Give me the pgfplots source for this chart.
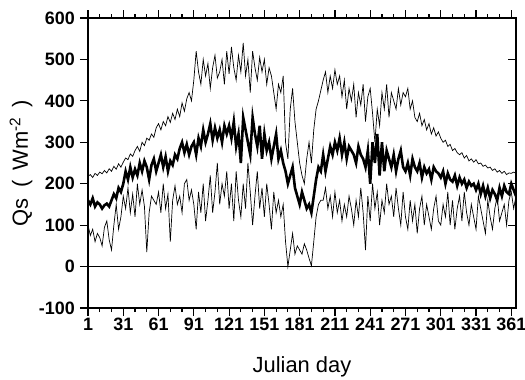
\documentclass[border=0pt]{standalone}
\usepackage{pgfplots}
\pgfplotsset{compat=1.18}
\usepackage{pgfplotstable}
\usepackage{fontspec}
\setmainfont{Liberation Sans}
\pgfplotstableread{
day up mid low
1 218 160 100
3 222 150 75
5 215 165 90
7 225 145 60
9 220 155 80
11 228 150 70
13 224 140 50
15 232 148 95
17 226 152 110
19 236 145 65
21 230 160 40
23 242 175 100
25 235 165 150
27 248 190 90
29 240 180 120
31 252 200 170
33 262 230 140
35 258 210 190
37 272 240 130
39 266 215 175
41 280 235 120
43 290 220 200
45 278 250 150
47 300 230 185
49 292 255 145
51 310 240 35
53 305 210 130
55 320 245 170
57 312 260 160
59 335 230 150
61 345 250 180
63 330 270 130
65 350 240 200
67 340 265 140
69 362 230 175
71 348 255 60
73 370 245 160
75 355 270 195
77 380 260 150
79 362 285 170
81 395 300 130
83 375 275 200
85 405 295 210
87 420 270 160
89 400 290 185
91 450 300 150
93 520 270 90
95 470 310 180
97 440 290 130
99 500 330 200
101 460 300 110
103 490 320 160
105 430 345 220
107 480 305 130
109 510 335 180
111 455 310 250
113 470 330 150
115 500 300 200
117 440 340 170
119 520 320 230
121 465 340 140
123 530 310 200
125 480 350 110
127 450 290 230
129 510 320 160
131 470 250 120
133 540 360 200
135 460 330 140
137 500 300 250
139 420 270 180
141 520 360 100
143 480 320 170
145 450 290 230
147 505 340 140
149 470 260 190
151 500 320 120
153 440 280 200
155 480 300 150
157 460 260 90
159 420 290 180
161 380 320 130
163 440 260 160
165 420 280 120
167 460 250 150
169 300 230 60
171 260 200 0
173 380 220 40
175 430 240 80
177 350 190 30
179 300 170 50
181 250 150 40
183 220 180 30
185 200 160 55
187 260 140 40
189 300 150 20
191 250 130 2
193 330 170 60
195 380 210 120
197 400 240 150
199 425 230 160
201 450 270 160
203 470 230 190
205 420 260 140
207 460 290 170
209 430 270 120
211 475 300 180
213 440 280 130
215 460 310 160
217 410 270 110
219 450 300 150
221 380 260 120
223 430 290 170
225 400 280 140
227 440 270 100
229 360 250 160
231 420 290 120
233 390 270 190
235 440 260 130
237 350 240 40
239 410 280 170
241 430 200 110
243 370 300 200
245 300 250 140
247 380 320 180
249 340 220 100
251 420 300 160
253 380 230 130
255 440 280 200
257 360 260 150
259 420 240 170
261 400 270 120
263 380 230 190
265 430 260 140
267 390 280 100
269 420 240 180
271 410 230 120
273 430 250 90
275 380 220 160
277 400 260 110
279 360 240 150
281 350 230 80
283 370 250 140
285 340 215 170
287 355 240 100
289 330 225 150
291 345 235 120
293 320 210 90
295 335 240 140
297 315 230 170
299 325 225 110
301 310 215 100
303 300 230 150
305 305 200 120
307 290 225 180
309 295 210 100
311 280 205 160
313 285 220 90
315 275 195 140
317 270 215 170
319 275 200 110
321 262 210 180
323 268 190 130
325 255 205 100
327 260 195 150
329 252 200 120
331 258 185 90
333 248 200 170
335 250 175 140
337 242 195 110
339 245 170 80
341 238 190 160
343 240 165 120
345 232 185 90
347 236 175 140
349 228 160 170
351 232 190 110
353 225 170 130
355 230 195 150
357 222 180 100
359 226 175 160
361 225 200 180
363 228 185 140
365 225 170 170
}\datatable
\begin{document}
\begin{tikzpicture}
\begin{axis}[
  scale only axis,
  width=428bp, height=290bp,
  xmin=1, xmax=365, ymin=-100, ymax=600,
  xtick={1,31,...,361},
  minor x tick num=2,
  ytick={-100,0,...,600},
  ytick pos=left,
  tick align=outside,
  major tick length=8bp,
  minor tick length=4bp,
  every tick/.style={black, line width=1.2pt},
  axis line style={line width=1.6pt},
  ticklabel style={font=\fontsize{18}{20}\selectfont\bfseries},
  xticklabel style={inner sep=2bp},
  yticklabel style={inner sep=2bp, xshift=-3bp},
  /pgf/number format/assume math mode=true,
  xlabel={Julian day},
  ylabel={Qs\hspace{0.5em}(\hspace{0.45em}Wm\textsuperscript{-2}\hspace{0.45em})},
  label style={font=\fontsize{22}{24}\selectfont},
  xlabel style={at={(axis description cs:0.5,0)}, anchor=base, yshift=-64bp},
  ylabel style={at={(axis description cs:-0.1565,0.5)}, anchor=center},
  clip=true,
]
\addplot[black, line width=0.7pt] coordinates {(1,0) (365,0)};
\addplot[black, line width=0.7pt] table[x=day, y=up] {\datatable};
\addplot[black, line width=0.7pt] table[x=day, y=low] {\datatable};
\addplot[black, line width=2.6pt] table[x=day, y=mid] {\datatable};
\pgfplotsinvokeforeach{-100,0,100,200,300,400,500,600}{
  \draw[line width=1.2pt] (axis cs:365,#1) -- ([xshift=-8bp]axis cs:365,#1);
}
\end{axis}
\pgfresetboundingbox
\path ([shift={(-88bp,-72bp)}]current axis.south west) rectangle ([shift={(9bp,18bp)}]current axis.north east);
\end{tikzpicture}
\end{document}
